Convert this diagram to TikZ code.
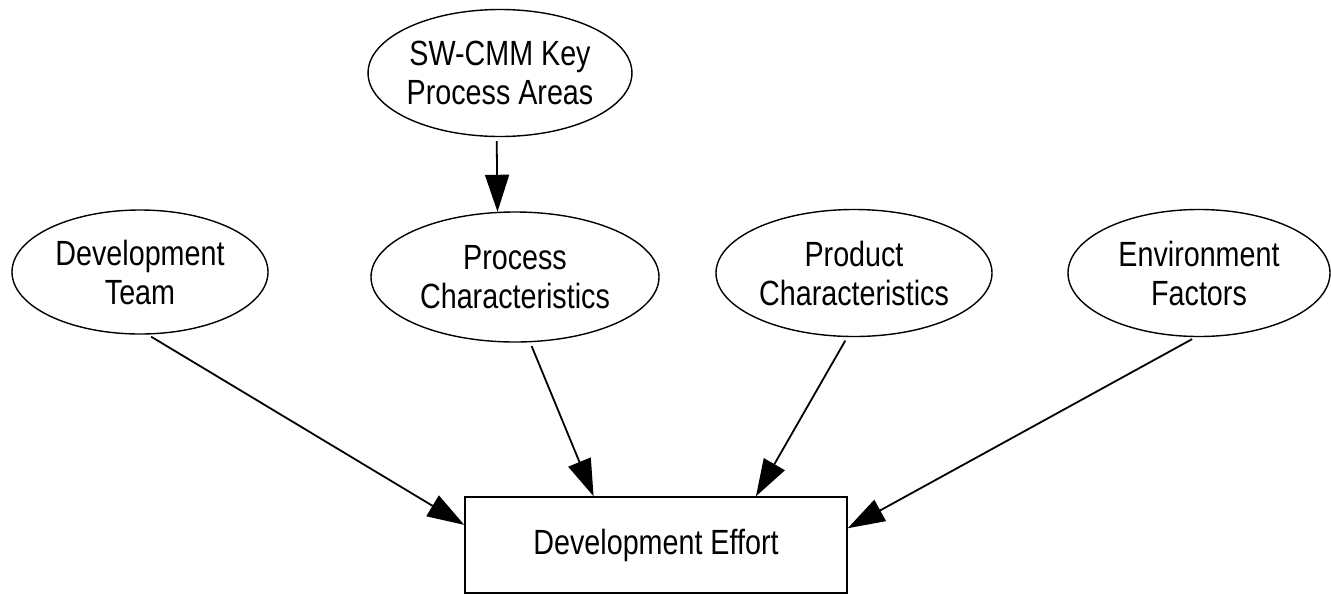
\documentclass[tikz,border=0pt]{standalone}
\usepackage{fontspec}
\setmainfont{Liberation Sans}[FakeStretch=0.82]
\usetikzlibrary{arrows.meta,shapes.geometric}

\begin{document}
\begin{tikzpicture}[x=1pt, y=-1pt,
		factor/.style={draw, ellipse, line width=1.4pt, inner sep=0pt, align=center,
			font=\fontsize{35}{39}\selectfont},
		target/.style={draw, rectangle, line width=1.5pt, inner sep=0pt,
			font=\fontsize{35}{39}\selectfont},
		link/.style={line width=1.8pt, -{Triangle[length=37pt, width=24pt]}, shorten <=4pt}]
			%%%%% START %%%%%
			
			\useasboundingbox (0, 0) rectangle (1331, 595);
			
			\node[factor, minimum width=260, minimum height=127] (kpa) at (500, 73) {SW-CMM Key\\Process Areas};
			
			\node[factor, minimum width=256, minimum height=124] (team) at (140, 272) {Development\\Team};
			\node[factor, minimum width=288, minimum height=130] (process) at (515, 277) {Process\\Characteristics};
			\node[factor, minimum width=276, minimum height=127] (product) at (854, 273) {Product\\Characteristics};
			\node[factor, minimum width=262, minimum height=127] (env) at (1199, 273) {Environment\\Factors};
			
			\node[target, minimum width=382, minimum height=96] (effort) at (656, 545) {Development Effort};
			
			\draw[link] (kpa.-93) -- (process.105.5);
			
			\draw[link] (team.-83) -- (effort.174.6);
			\draw[link] (process.-77) -- (effort.142.7);
			\draw[link] (product.-96) -- (effort.26.3);
			\draw[link] (env.-93) -- (effort.5.1);
			
			%%%%% END %%%%%
		\end{tikzpicture}
\end{document}
